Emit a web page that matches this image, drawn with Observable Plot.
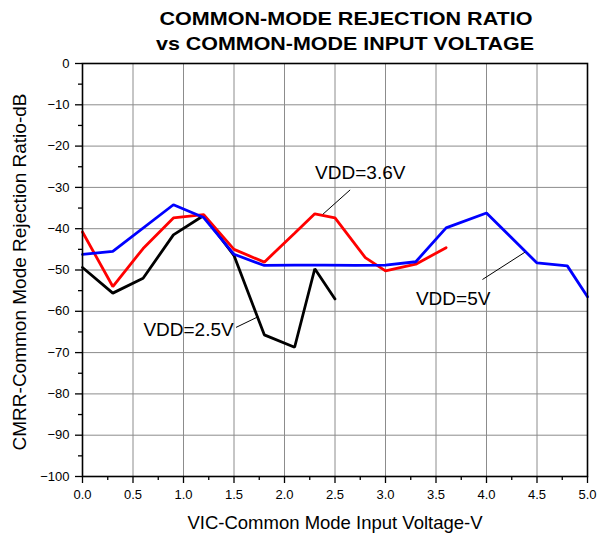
<!DOCTYPE html>
<html><head><meta charset="utf-8">
<script src="https://cdn.jsdelivr.net/npm/d3@7"></script>
<script src="https://cdn.jsdelivr.net/npm/@observablehq/plot@0.6"></script>
<style>body{margin:0;background:#fff;color:#000}</style>
</head><body><div id="chart"></div>
<script>
// Data
const xVDD25 = [0, 0.3, 0.6, 0.9, 1.2, 1.5, 1.8, 2.1, 2.3, 2.5];
const yVDD25 = [-49.4, -55.6, -52, -41.5, -36.8, -46.5, -65.7, -68.7, -49.7, -57];
const xVDD36 = [0, 0.3, 0.6, 0.9, 1.2, 1.5, 1.8, 2.1, 2.3, 2.5, 2.8, 3.0, 3.3, 3.6];
const yVDD36 = [-40.8, -54, -44.8, -37.4, -36.6, -45, -48.1, -41.1, -36.4, -37.4, -47, -50.2, -48.6, -44.6];
const xVDD5 = [0, 0.3, 0.9, 1.2, 1.5, 1.8, 2.1, 2.4, 2.7, 3.0, 3.3, 3.6, 4.0, 4.5, 4.8, 5.0];
const yVDD5 = [-46.2, -45.5, -34.2, -37.3, -46.2, -48.9, -48.8, -48.8, -48.9, -48.8, -48, -39.8, -36.2, -48.3, -49, -56.5];

const xTicks = [0, 0.5, 1, 1.5, 2, 2.5, 3, 3.5, 4, 4.5, 5];
const xMinor = [0.25, 0.75, 1.25, 1.75, 2.25, 2.75, 3.25, 3.75, 4.25, 4.75];
const yTicks = [0, -10, -20, -30, -40, -50, -60, -70, -80, -90, -100];
const yMinor = [-5, -15, -25, -35, -45, -55, -65, -75, -85, -95];

const labelText = ["VDD=2.5V", "VDD=3.6V", "VDD=5V"];
const labelX = [1.05, 2.75, 3.67];
const labelY = [-64.6, -26.4, -56.9];
const leaderX1 = [1.52, 2.65, 3.96];
const leaderY1 = [-63.9, -30.6, -52.3];
const leaderX2 = [1.74, 2.38, 4.38];
const leaderY2 = [-61.3, -36.5, -45.7];

const titleLines = ["COMMON-MODE REJECTION RATIO", "vs COMMON-MODE INPUT VOLTAGE"];
const xLabel = "VIC-Common Mode Input Voltage-V";
const yLabel = "CMRR-Common Mode Rejection Ratio-dB";

const series = [
  {name: "VDD=2.5V", xs: xVDD25, ys: yVDD25, color: "#000000"},
  {name: "VDD=3.6V", xs: xVDD36, ys: yVDD36, color: "#ff0000"},
  {name: "VDD=5V", xs: xVDD5, ys: yVDD5, color: "#0000ff"}
];
const pts = series.flatMap(s => s.xs.map((x, i) => ({x, y: s.ys[i], s: s.name, c: s.color})));
const labels = labelText.map((t, i) => ({t, x: labelX[i], y: labelY[i], x1: leaderX1[i], y1: leaderY1[i], x2: leaderX2[i], y2: leaderY2[i]}));

const font = "'Liberation Sans', Arial, Helvetica, sans-serif";

const chart = Plot.plot({
  width: 597, height: 540,
  marginLeft: 82, marginRight: 10, marginTop: 63, marginBottom: 64,
  style: {fontFamily: font, fontSize: "13px", background: "#fff", color: "#000"},
  x: {domain: [0, 5]},
  y: {domain: [-100, 0]},
  marks: [
    Plot.gridX(xTicks, {stroke: "#8c8c8c", strokeOpacity: 1, strokeWidth: 1}),
    Plot.gridY(yTicks, {stroke: "#8c8c8c", strokeOpacity: 1, strokeWidth: 1}),
    Plot.line(pts, {x: "x", y: "y", z: "s", stroke: "c", strokeWidth: 2.8, strokeLinejoin: "miter"}),
    Plot.link(labels, {x1: "x1", y1: "y1", x2: "x2", y2: "y2", stroke: "#000", strokeWidth: 1}),
    Plot.text(labels, {x: "x", y: "y", text: "t", fontSize: 19, fill: "#000"}),
    Plot.frame({stroke: "#000", strokeWidth: 1.6}),
    Plot.axisX(xTicks, {tickFormat: d => d.toFixed(1), tickSize: 7, tickPadding: 6, fontSize: 13, label: null, stroke: "#000", strokeWidth: 1.3}),
    Plot.axisX(xMinor, {tickSize: 4, text: null, label: null, stroke: "#000", strokeWidth: 1.3}),
    Plot.axisY(yTicks, {tickFormat: d => d < 0 ? "\u2212" + Math.abs(d) : String(d), tickSize: 7, tickPadding: 6, fontSize: 13, label: null, stroke: "#000", strokeWidth: 1.3}),
    Plot.axisY(yMinor, {tickSize: 4, text: null, label: null, stroke: "#000", strokeWidth: 1.3}),
    Plot.text([xLabel], {frameAnchor: "bottom", lineAnchor: "middle", dy: 47, fontSize: 18.5, fill: "#000"}),
    Plot.text([yLabel], {frameAnchor: "left", textAnchor: "middle", lineAnchor: "middle", rotate: -90, dx: -62.5, dy: 2, fontSize: 19, fill: "#000"}),
    Plot.text([titleLines[0]], {frameAnchor: "top", lineAnchor: "middle", dx: 11, dy: -44.5, fontSize: 19, fontWeight: "bold", fill: "#000", className: "ttl"}),
    Plot.text([titleLines[1]], {frameAnchor: "top", lineAnchor: "middle", dx: 10, dy: -19.5, fontSize: 19, fontWeight: "bold", fill: "#000", className: "ttl2"})
  ]
});
d3.select(chart).selectAll(".ttl text").attr("textLength", 373).attr("lengthAdjust", "spacingAndGlyphs");
d3.select(chart).selectAll(".ttl2 text").attr("textLength", 378).attr("lengthAdjust", "spacingAndGlyphs");
document.getElementById("chart").appendChild(chart);
</script>
</body></html>
